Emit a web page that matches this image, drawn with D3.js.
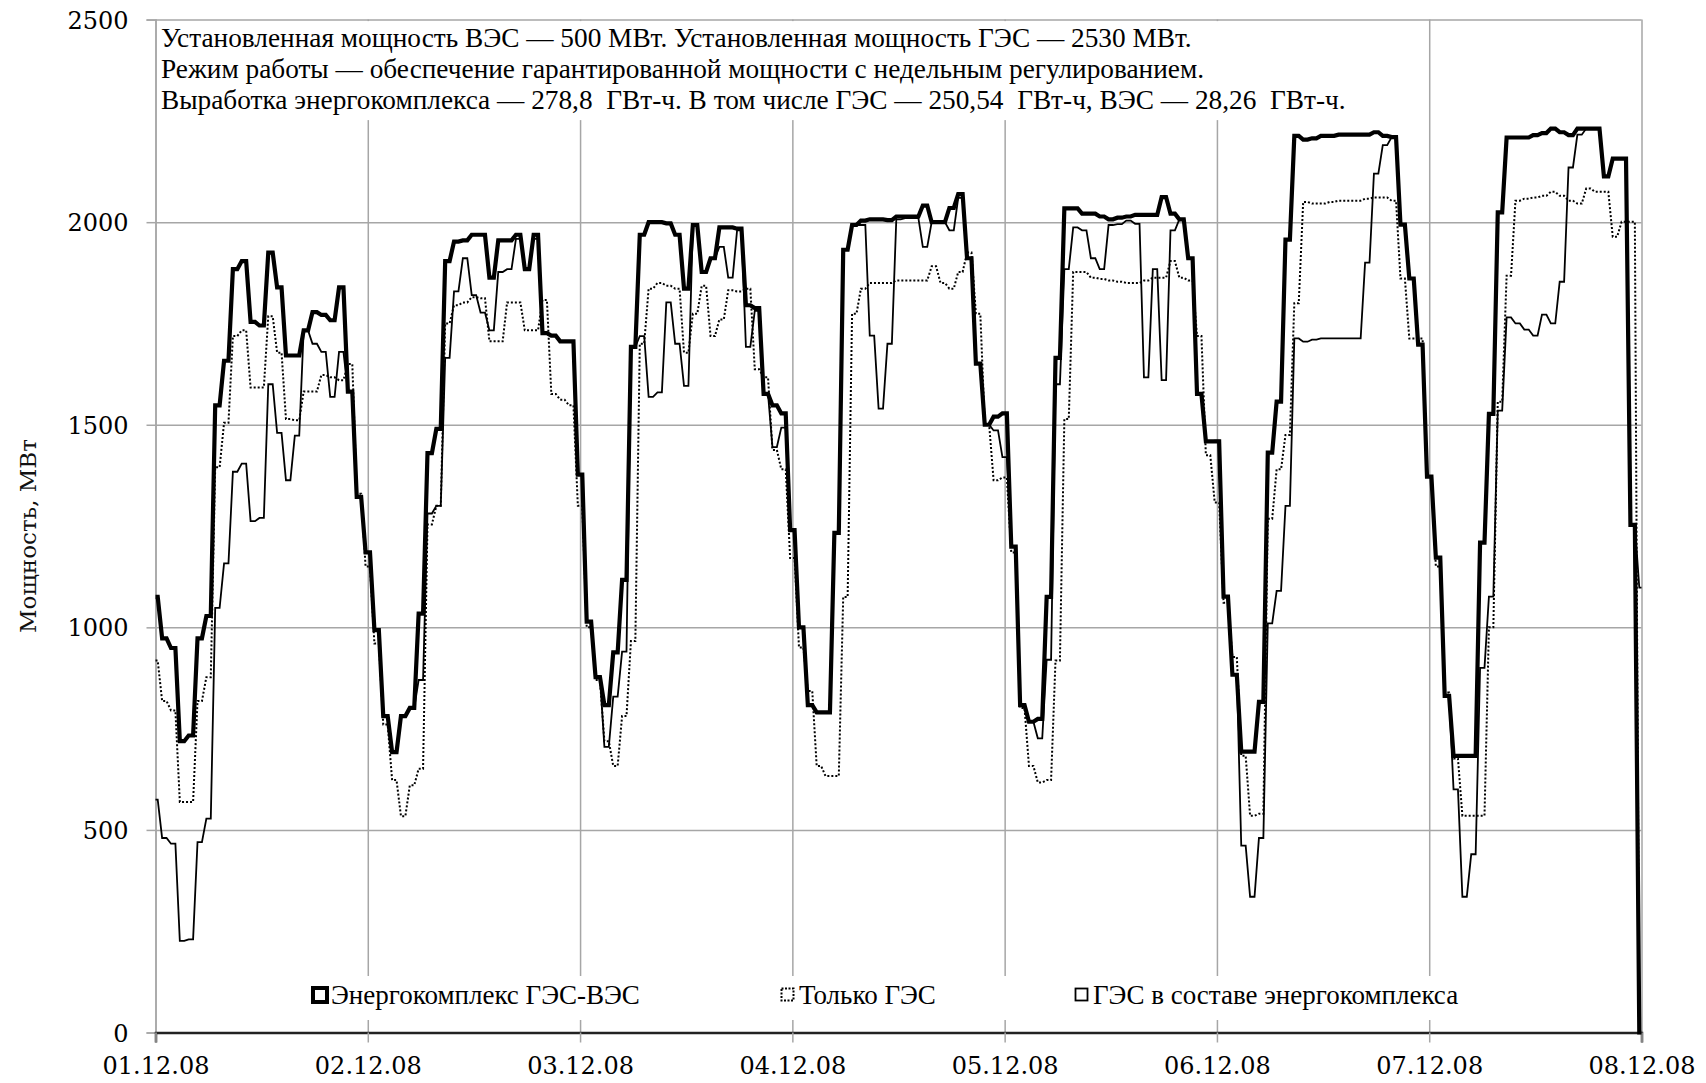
<!DOCTYPE html>
<html>
<head>
<meta charset="utf-8">
<script src="https://cdn.jsdelivr.net/npm/d3@7"></script>
<style>
  body { margin: 0; background: #fff; }
  svg { display: block; }
</style>
</head>
<body>
<div id="chart"></div>
<script>
// hourly values, 01.12.08 00:00 ... 08.12.08 00:00 (169 points), MW
var complexPower = [
  1075, 973, 949, 719, 733, 973, 1028, 1548, 1658, 1884, 1904, 1754, 1745, 1925, 1839, 1671, 1671, 1733, 1778, 1771, 1758, 1839, 1582, 1322,
  1185, 993, 781, 692, 781, 801, 1034, 1430, 1490, 1904, 1952, 1955, 1969, 1969, 1863, 1955, 1955, 1969, 1884, 1969, 1726, 1720, 1706, 1706,
  1377, 1014, 877, 808, 938, 1117, 1692, 1969, 2000, 2000, 1997, 1969, 1836, 1993, 1877, 1911, 1987, 1987, 1984, 1795, 1788, 1576, 1548, 1528,
  1240, 1000, 808, 790, 790, 1233, 1932, 1993, 2004, 2007, 2007, 2005, 2014, 2014, 2014, 2041, 2000, 2000, 2035, 2069, 1911, 1651, 1500, 1520,
  1528, 1199, 808, 767, 774, 1075, 1665, 2034, 2034, 2021, 2021, 2014, 2007, 2011, 2014, 2018, 2018, 2018, 2062, 2021, 2007, 1911, 1576, 1459,
  1459, 1076, 883, 693, 693, 816, 1431, 1557, 1957, 2213, 2204, 2207, 2213, 2213, 2216, 2216, 2216, 2216, 2222, 2213, 2210, 1994, 1861, 1698,
  1372, 1172, 831, 683, 683, 683, 1209, 1527, 2024, 2209, 2209, 2209, 2215, 2220, 2231, 2222, 2215, 2231, 2231, 2231, 2113, 2157, 2157, 1253,
  0
];

var hydroOnly = [
  918, 818, 795, 569, 569, 818, 877, 1395, 1505, 1719, 1733, 1592, 1592, 1768, 1678, 1514, 1511, 1582, 1582, 1623, 1617, 1610, 1650, 1330,
  1150, 960, 760, 623, 534, 610, 651, 1254, 1300, 1750, 1795, 1802, 1815, 1812, 1706, 1706, 1802, 1802, 1733, 1733, 1808, 1576, 1562, 1548,
  1300, 1000, 870, 719, 658, 781, 966, 1700, 1836, 1850, 1843, 1836, 1678, 1774, 1843, 1719, 1760, 1832, 1829, 1836, 1637, 1617, 1438, 1390,
  1171, 950, 843, 658, 633, 633, 1075, 1774, 1836, 1850, 1850, 1850, 1856, 1856, 1856, 1856, 1891, 1850, 1836, 1877, 1925, 1774, 1500, 1363,
  1370, 1185, 801, 658, 617, 623, 918, 1514, 1877, 1877, 1863, 1860, 1856, 1853, 1850, 1850, 1856, 1863, 1863, 1904, 1863, 1856, 1719, 1425,
  1308, 1061, 927, 683, 535, 540, 1268, 1390, 1475, 1800, 2050, 2046, 2046, 2050, 2053, 2053, 2053, 2058, 2061, 2061, 2053, 1861, 1713, 1713,
  1372, 1150, 839, 676, 535, 535, 535, 1000, 1557, 1868, 2053, 2058, 2061, 2065, 2075, 2065, 2053, 2046, 2083, 2075, 2075, 1964, 2001, 2001,
  0
];

var hydroInComplex = [
  575, 480, 466, 226, 230, 470, 528, 1048, 1158, 1384, 1404, 1262, 1270, 1600, 1480, 1363, 1473, 1733, 1700, 1680, 1569, 1680, 1582, 1322,
  1185, 993, 781, 692, 781, 801, 870, 1281, 1300, 1665, 1829, 1911, 1820, 1777, 1733, 1877, 1884, 1959, 1886, 1959, 1726, 1720, 1706, 1706,
  1377, 1014, 877, 705, 829, 940, 1692, 1719, 1569, 1580, 1802, 1700, 1596, 1993, 1877, 1911, 1939, 1863, 1980, 1692, 1781, 1576, 1445, 1493,
  1240, 1000, 808, 790, 790, 1233, 1932, 1993, 1993, 1720, 1540, 1700, 2007, 2010, 2010, 1939, 2000, 2000, 1980, 2060, 1911, 1651, 1500, 1486,
  1420, 1199, 808, 767, 726, 920, 1600, 1884, 1987, 1980, 1911, 1884, 1993, 1995, 2004, 1996, 1617, 1884, 1610, 1980, 2007, 1911, 1576, 1459,
  1461, 1076, 883, 461, 335, 480, 1010, 1090, 1300, 1713, 1705, 1710, 1713, 1713, 1713, 1713, 1713, 1900, 2120, 2190, 2210, 1994, 1861, 1698,
  1372, 1172, 831, 600, 335, 440, 900, 1076, 1535, 1765, 1750, 1735, 1720, 1772, 1750, 1853, 2135, 2216, 2231, 2231, 2113, 2157, 2157, 1253,
  1098
];

var yTicks = [0, 500, 1000, 1500, 2000, 2500];
var legendNames = ["Энергокомплекс ГЭС-ВЭС", "Только ГЭС", "ГЭС в составе энергокомплекса"];
var noteLines = [
  "Установленная мощность ВЭС — 500 МВт. Установленная мощность ГЭС — 2530 МВт.",
  "Режим работы — обеспечение гарантированной мощности с недельным регулированием.",
  "Выработка энергокомплекса — 278,8  ГВт-ч. В том числе ГЭС — 250,54  ГВт-ч, ВЭС — 28,26  ГВт-ч."
];

var W = 1706, H = 1083;
var pLeft = 155.5, pRight = 1641.5, pTop = 19.6, pBottom = 1032.5;
var start = new Date(2008, 11, 1);
var end = new Date(2008, 11, 8);
var grid = "#a6a6a6";

var svg = d3.select("#chart").append("svg").attr("width", W).attr("height", H);

var x = d3.scaleTime().domain([start, end]).range([pLeft, pRight]);
var y = d3.scaleLinear().domain([0, 2500]).range([pBottom, pTop]);

// horizontal grid
svg.append("g")
  .attr("transform", "translate(" + pLeft + ",0)")
  .call(d3.axisLeft(y).tickValues(yTicks).tickSize(-(pRight - pLeft)).tickFormat(""))
  .call((g) => g.select(".domain").remove())
  .selectAll("line").attr("stroke", grid).attr("stroke-width", 1.5);

// vertical grid (days)
svg.append("g")
  .attr("transform", "translate(0," + pBottom + ")")
  .call(d3.axisBottom(x).ticks(d3.timeDay.every(1)).tickSize(-(pBottom - pTop)).tickFormat(""))
  .call((g) => g.select(".domain").remove())
  .selectAll("line").attr("stroke", grid).attr("stroke-width", 1.5);

// white boxes for the note and the legend (hide the grid beneath)
svg.append("rect").attr("x", pLeft + 2).attr("y", pTop + 1.5).attr("width", 1230).attr("height", 99).attr("fill", "#fff");
svg.append("rect").attr("x", 302).attr("y", 976).attr("width", 1168).attr("height", 44).attr("fill", "#fff");

// y axis
var yAxis = svg.append("g")
  .attr("transform", "translate(" + pLeft + ",0)")
  .call(d3.axisLeft(y).tickValues(yTicks).tickFormat(d3.format("d")).tickSize(9).tickPadding(18));
yAxis.select(".domain").attr("stroke", grid).attr("stroke-width", 1.5);
yAxis.selectAll("line").attr("stroke", grid).attr("stroke-width", 1.5);
yAxis.selectAll("text")
  .attr("font-family", "DejaVu Serif").attr("font-size", 24).attr("fill", "#000")
  .attr("dy", "0.36em");

// x axis
var xAxis = svg.append("g")
  .attr("transform", "translate(0," + pBottom + ")")
  .call(d3.axisBottom(x).ticks(d3.timeDay.every(1)).tickFormat(d3.timeFormat("%d.%m.%y")).tickSize(10).tickPadding(14));
xAxis.select(".domain").attr("stroke", "#222").attr("stroke-width", 2.5);
xAxis.selectAll("line").attr("stroke", grid).attr("stroke-width", 1.5);
xAxis.selectAll("text")
  .attr("font-family", "DejaVu Serif").attr("font-size", 24).attr("fill", "#000");

// y title
svg.append("text")
  .attr("transform", "translate(36,536) rotate(-90)")
  .attr("text-anchor", "middle")
  .attr("font-family", "DejaVu Serif").attr("font-size", 23).attr("fill", "#111")
  .text("Мощность, МВт");

// each hourly value is held for half an hour, then ramps to the next
function plateau(context) {
  var px, py, n;
  return {
    areaStart: function () {},
    areaEnd: function () {},
    lineStart: function () { n = 0; },
    lineEnd: function () { if (n > 0) context.lineTo(px, py); },
    point: function (px2, py2) {
      px2 = +px2; py2 = +py2;
      if (n === 0) context.moveTo(px2, py2);
      else {
        var q = (px2 - px) / 4;
        context.lineTo(px + q, py);
        context.lineTo(px2 - q, py2);
      }
      px = px2; py = py2; n++;
    }
  };
}

var line = d3.line()
  .x((d, i) => x(d3.timeHour.offset(start, i)))
  .y((d) => y(d))
  .curve(plateau);

var series = [
  { values: hydroInComplex, width: 1.8, dash: null },
  { values: hydroOnly, width: 2, dash: "2,2" },
  { values: complexPower, width: 4.2, dash: null }
];

svg.append("g").selectAll("path")
  .data(series)
  .enter()
  .append("path")
  .attr("d", (d) => line(d.values))
  .attr("fill", "none")
  .attr("stroke", "#000")
  .attr("stroke-width", (d) => d.width)
  .attr("stroke-dasharray", (d) => d.dash)
  .attr("stroke-linejoin", "miter");

// note
svg.append("g").selectAll("text")
  .data(noteLines)
  .enter()
  .append("text")
  .attr("x", 161)
  .attr("y", (d, i) => 46.5 + i * 31)
  .attr("font-family", "Liberation Serif").attr("font-size", 27.3).attr("fill", "#000")
  .style("white-space", "pre")
  .text((d) => d);

// legend
var legendX = [311, 779, 1073];
var leg = svg.append("g").selectAll("g")
  .data(legendNames)
  .enter()
  .append("g")
  .attr("transform", (d, i) => "translate(" + legendX[i] + ",0)");

leg.append("rect")
  .attr("x", (d, i) => (i === 0 ? 2 : 2.5))
  .attr("y", (d, i) => (i === 0 ? 988 : 988.5))
  .attr("width", (d, i) => (i === 0 ? 14 : 12))
  .attr("height", (d, i) => (i === 0 ? 14 : 12))
  .attr("fill", "#fff")
  .attr("stroke", "#000")
  .attr("stroke-width", (d, i) => (i === 0 ? 4 : i === 1 ? 2 : 1.8))
  .attr("stroke-dasharray", (d, i) => (i === 1 ? "2,1.5" : null));

leg.append("text")
  .attr("x", 20)
  .attr("y", 1004)
  .attr("font-family", "Liberation Serif").attr("font-size", 27).attr("fill", "#000")
  .text((d) => d);
</script>
</body>
</html>
